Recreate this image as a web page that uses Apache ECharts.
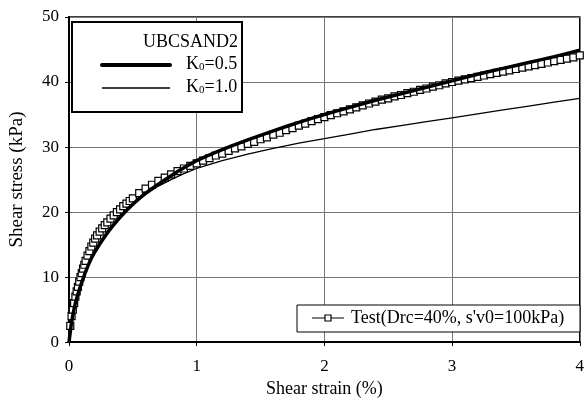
<!DOCTYPE html>
<html><head><meta charset="utf-8">
<script src="https://cdn.jsdelivr.net/npm/echarts@6/dist/echarts.min.js"></script>
<style>html,body{margin:0;padding:0;background:#fff}#c{width:587px;height:403px}</style>
</head><body><div id="c"></div>
<script>
const xTicks = [0, 1, 2, 3, 4];
const yTicks = [0, 10, 20, 30, 40, 50];
const modelK05 = [[0,0],[0.02,3],[0.05,6],[0.1,9.2],[0.15,11.8],[0.2,13.8],[0.3,16.8],[0.4,19.2],[0.5,21.2],[0.6,22.9],[0.7,24.3],[0.8,25.6],[0.9,26.8],[1.0,27.9],[1.2,29.6],[1.4,31.1],[1.6,32.5],[1.8,33.8],[2.0,35.0],[2.2,36.1],[2.4,37.2],[2.6,38.2],[2.8,39.2],[3.0,40.2],[3.2,41.2],[3.4,42.1],[3.6,43.0],[3.8,43.9],[4.0,44.9]];
const modelK10 = [[0,0],[0.02,3],[0.05,6],[0.1,9.2],[0.15,11.8],[0.2,13.8],[0.3,16.8],[0.4,19.2],[0.5,21.1],[0.6,22.7],[0.7,24.0],[0.8,25.0],[0.9,25.9],[1.0,26.7],[1.2,27.9],[1.4,28.9],[1.6,29.8],[1.8,30.6],[2.0,31.3],[2.2,32.0],[2.4,32.7],[2.6,33.3],[2.8,33.9],[3.0,34.5],[3.2,35.1],[3.4,35.7],[3.6,36.3],[3.8,36.9],[4.0,37.5]];
const testData = [[0.01,2.5],[0.02,4],[0.03,5],[0.04,6],[0.05,7],[0.06,7.8],[0.07,8.5],[0.08,9.3],[0.09,10],[0.1,10.6],[0.11,11.3],[0.12,11.9],[0.13,12.5],[0.145,13.3],[0.16,14],[0.175,14.7],[0.19,15.3],[0.205,15.9],[0.22,16.4],[0.24,17],[0.26,17.5],[0.28,18],[0.3,18.4],[0.325,19],[0.35,19.5],[0.375,20],[0.4,20.4],[0.425,20.9],[0.45,21.3],[0.475,21.7],
[0.5,22.1],[0.55,22.9],[0.6,23.6],[0.65,24.2],[0.7,24.8],[0.75,25.3],[0.8,25.8],[0.85,26.3],[0.9,26.7],[0.95,27.1],[1.0,27.5],[1.05,27.9],[1.1,28.3],[1.15,28.7],[1.2,29.0],[1.25,29.4],[1.3,29.8],[1.35,30.1],[1.4,30.5],[1.45,30.8],[1.5,31.2],[1.55,31.5],[1.6,31.9],[1.65,32.2],[1.7,32.6],[1.75,32.9],[1.8,33.3],[1.85,33.6],[1.9,34.0],[1.95,34.3],[2.0,34.6],[2.05,34.9],[2.1,35.2],[2.15,35.5],[2.2,35.8],[2.25,36.1],[2.3,36.4],[2.35,36.7],[2.4,37.0],[2.45,37.3],[2.5,37.5],[2.55,37.8],[2.6,38.0],[2.65,38.3],[2.7,38.5],[2.75,38.8],[2.8,39.0],[2.85,39.3],[2.9,39.5],[2.95,39.8],[3.0,40.0],[3.05,40.2],[3.1,40.4],[3.15,40.6],[3.2,40.8],[3.25,41.0],[3.3,41.2],[3.35,41.4],[3.4,41.6],[3.45,41.8],[3.5,42.0],[3.55,42.2],[3.6,42.4],[3.65,42.6],[3.7,42.8],[3.75,43.0],[3.8,43.2],[3.85,43.4],[3.9,43.6],[3.95,43.8],[4.0,44.1]];
const seriesNames = ['K0=0.5', 'K0=1.0', "Test(Drc=40%, s'v0=100kPa)"];
const legendTitle = 'UBCSAND2';
const xName = 'Shear strain (%)';
const yName = 'Shear stress (kPa)';

const FONT = '"Liberation Serif", "DejaVu Serif", serif';
const chart = echarts.init(document.getElementById('c'));
const GL = 67, GT = 17, GR = 3, GB = 58;
chart.setOption({
  animation: false,
  backgroundColor: '#fff',
  grid: { left: GL, top: GT, right: GR, bottom: GB, show: true, borderColor: '#000', borderWidth: 1.5 },
  xAxis: {
    type: 'value', min: xTicks[0], max: xTicks[xTicks.length-1], interval: 1,
    name: xName, nameLocation: 'middle', nameGap: 37,
    nameTextStyle: { fontFamily: FONT, fontSize: 18, color: '#000' },
    axisLine: { lineStyle: { color: '#000', width: 2 } },
    axisTick: { show: true, length: 4, lineStyle: { color: '#000' } },
    axisLabel: { fontFamily: FONT, fontSize: 17, color: '#000', margin: 16 },
    splitLine: { show: true, lineStyle: { color: '#777', width: 1 } }
  },
  yAxis: {
    type: 'value', min: yTicks[0], max: yTicks[yTicks.length-1], interval: 10,
    name: yName, nameLocation: 'middle', nameGap: 42,
    nameTextStyle: { fontFamily: FONT, fontSize: 19, color: '#000' },
    axisLine: { lineStyle: { color: '#000', width: 2 } },
    axisTick: { show: true, length: 4, lineStyle: { color: '#000' } },
    axisLabel: { fontFamily: FONT, fontSize: 17, color: '#000', margin: 10 },
    splitLine: { show: true, lineStyle: { color: '#777', width: 1 } }
  },
  series: [
    { name: seriesNames[2], type: 'line', data: testData, symbol: 'rect', symbolSize: 7,
      showAllSymbol: true,
      itemStyle: { color: '#fff', borderColor: '#000', borderWidth: 1.2 },
      lineStyle: { color: '#000', width: 1 }, z: 3 },
    { name: seriesNames[1], type: 'line', data: modelK10, symbol: 'none',
      lineStyle: { color: '#000', width: 1.3 }, z: 4 },
    { name: seriesNames[0], type: 'line', data: modelK05, symbol: 'none', smooth: 0.2,
      lineStyle: { color: '#000', width: 3.5 }, z: 5 }
  ],
  graphic: [
    { type: 'rect', shape: { x: 72, y: 22, width: 170, height: 90 }, style: { fill: '#fff', stroke: '#000', lineWidth: 2 }, z: 100 },
    { type: 'text', x: 238, y: 42, style: { text: legendTitle, font: '18px ' + FONT, fill: '#000', textAlign: 'right', textVerticalAlign: 'middle' }, z: 101 },
    { type: 'line', shape: { x1: 102, y1: 65, x2: 170, y2: 65 }, style: { stroke: '#000', lineWidth: 4, lineCap: 'round' }, z: 101 },
    { type: 'text', x: 186, y: 64, style: { text: 'K{s|0}=0.5', rich: { s: { fontSize: 11, fontFamily: FONT, padding: [7,0,0,0] } }, font: '18px ' + FONT, fill: '#000', textVerticalAlign: 'middle' }, z: 101 },
    { type: 'line', shape: { x1: 102, y1: 88, x2: 170, y2: 88 }, style: { stroke: '#000', lineWidth: 1.3 }, z: 101 },
    { type: 'text', x: 186, y: 87, style: { text: 'K{s|0}=1.0', rich: { s: { fontSize: 11, fontFamily: FONT, padding: [7,0,0,0] } }, font: '18px ' + FONT, fill: '#000', textVerticalAlign: 'middle' }, z: 101 },
    { type: 'rect', shape: { x: 297, y: 305, width: 283, height: 27 }, style: { fill: '#fff', stroke: '#000', lineWidth: 1 }, z: 100 },
    { type: 'line', shape: { x1: 312, y1: 318, x2: 344, y2: 318 }, style: { stroke: '#000', lineWidth: 1 }, z: 101 },
    { type: 'rect', shape: { x: 325, y: 315, width: 6, height: 6 }, style: { fill: '#fff', stroke: '#000', lineWidth: 1.2 }, z: 102 },
    { type: 'text', x: 351, y: 318, style: { text: seriesNames[2], font: '18px ' + FONT, fill: '#000', textVerticalAlign: 'middle' }, z: 101 }
  ]
});
</script></body></html>
